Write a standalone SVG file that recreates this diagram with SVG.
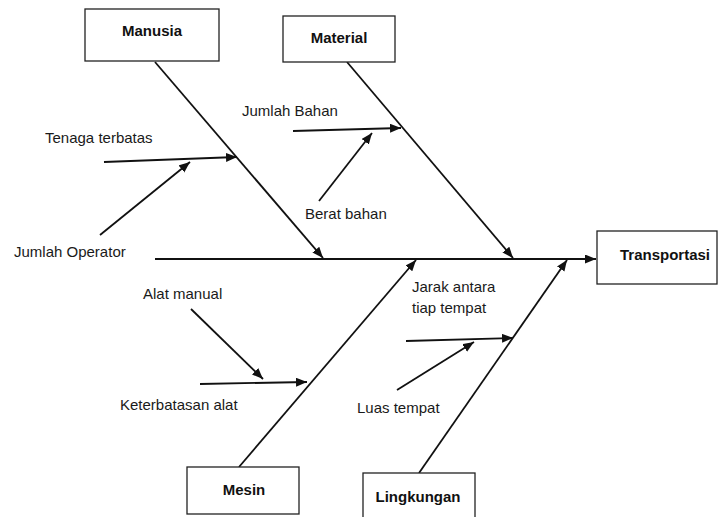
<svg xmlns="http://www.w3.org/2000/svg" width="720" height="517" viewBox="0 0 720 517">
<style>
.box{fill:#fff;stroke:#222;stroke-width:1.3}
.t{font-family:"Liberation Sans",Arial,sans-serif;font-size:15px;fill:#1a1a1a}
.b{font-family:"Liberation Sans",Arial,sans-serif;font-size:15px;font-weight:bold;fill:#111}
.ln{stroke:#111;stroke-width:1.8;fill:none;marker-end:url(#ah)}
</style>
<defs>
<marker id="ah" markerUnits="userSpaceOnUse" markerWidth="12" markerHeight="10" refX="11" refY="4.5" orient="auto">
<path d="M0,0 L11,4.5 L0,9 z" fill="#111"/>
</marker>
</defs>
<rect width="720" height="517" fill="#fff"/>
<g id="connectors">
<line class="ln" x1="155" y1="259" x2="596" y2="259"/>
<line class="ln" x1="155" y1="62" x2="323" y2="258"/>
<line class="ln" x1="347" y1="62" x2="513" y2="258"/>
<line class="ln" x1="239" y1="467" x2="416" y2="260"/>
<line class="ln" x1="419" y1="473" x2="567" y2="260"/>
<line class="ln" x1="104" y1="162" x2="237" y2="157"/>
<line class="ln" x1="100" y1="235" x2="190" y2="162"/>
<line class="ln" x1="293" y1="131" x2="401" y2="128"/>
<line class="ln" x1="319" y1="201" x2="372" y2="133"/>
<line class="ln" x1="191" y1="309" x2="263" y2="379"/>
<line class="ln" x1="200" y1="384" x2="307" y2="382"/>
<line class="ln" x1="406" y1="341" x2="513" y2="338"/>
<line class="ln" x1="397" y1="390" x2="474" y2="342"/>
</g>
<g id="manusia"><rect class="box" x="85" y="9" width="134" height="52"/><text class="b" x="152" y="36" text-anchor="middle">Manusia</text></g>
<g id="material"><rect class="box" x="283" y="16" width="112" height="46"/><text class="b" x="339" y="43" text-anchor="middle">Material</text></g>
<g id="transportasi"><rect class="box" x="597" y="231" width="120" height="53"/><text class="b" x="665" y="260" text-anchor="middle">Transportasi</text></g>
<g id="mesin"><rect class="box" x="187" y="467" width="112" height="47"/><text class="b" x="244" y="495" text-anchor="middle">Mesin</text></g>
<g id="lingkungan"><rect class="box" x="363" y="473" width="112" height="50"/><text class="b" x="418" y="502" text-anchor="middle">Lingkungan</text></g>
<g id="labels">
<text class="t" x="45" y="143">Tenaga terbatas</text>
<text class="t" x="14" y="257">Jumlah Operator</text>
<text class="t" x="242" y="116">Jumlah Bahan</text>
<text class="t" x="305" y="219">Berat bahan</text>
<text class="t" x="143" y="299">Alat manual</text>
<text class="t" x="120" y="410">Keterbatasan alat</text>
<text class="t" x="412" y="292">Jarak antara</text>
<text class="t" x="412" y="313">tiap tempat</text>
<text class="t" x="357" y="413">Luas tempat</text>
</g>
</svg>
